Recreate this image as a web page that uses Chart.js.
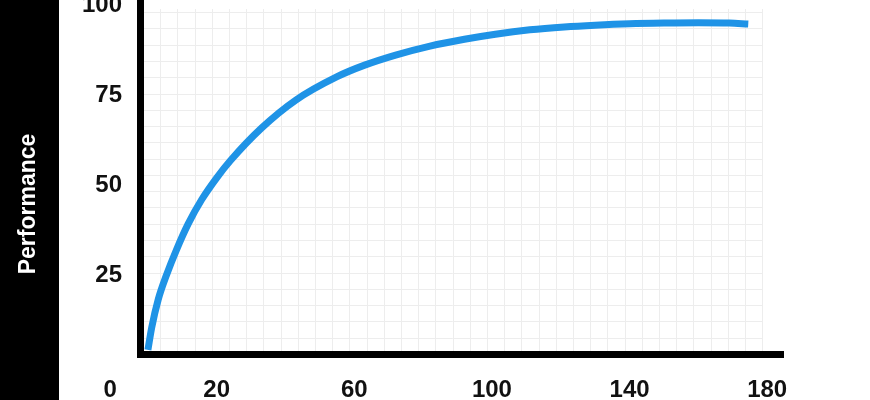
<!DOCTYPE html>
<html>
<head>
<meta charset="utf-8">
<script src="https://cdn.jsdelivr.net/npm/chart.js@4.4.1/dist/chart.umd.min.js"></script>
<style>
  html, body { margin: 0; padding: 0; background: #fff; }
  #wrap { width: 870px; height: 400px; }
</style>
</head>
<body>
<div id="wrap"><canvas id="perfChart" width="870" height="400"></canvas></div>
<script>
// values
const days = [0, 1.1, 3, 5.4, 8.3, 11.7, 15.6, 20, 24, 33, 43, 55, 63, 72, 82, 92, 101, 111, 121, 130, 140, 150, 160, 169, 174.5];
const performance = [4.2, 10.4, 18.2, 25.0, 32.0, 39.2, 45.9, 52.0, 56.8, 65.8, 73.6, 80.1, 83.3, 86.1, 88.6, 90.5, 91.9, 93.1, 93.9, 94.4, 94.8, 95.0, 95.1, 95.0, 94.7];
const xTicks = [0, 20, 60, 100, 140, 180];
const xTickLabels = ["0", "20", "60", "100", "140", "180"];
const yTicks = [25, 50, 75, 100];
const yTitle = "Performance";

const lineColor = "#1f93e6";
const tickFont = { family: "'Liberation Sans', Arial, sans-serif", size: 24, weight: "bold" };

// the "0" label sits left of the axis corner in the original
const originLabelShift = 11;

// black side band, faint paper grid and the rotated axis title
const paperPlugin = {
  id: "paper",
  beforeDraw(chart) {
    const { ctx, chartArea } = chart;
    ctx.save();
    ctx.fillStyle = "#fff";
    ctx.fillRect(0, 0, chart.width, chart.height);
    ctx.fillStyle = "#000";
    ctx.fillRect(0, 0, 59, chart.height);

    const cellW = 17.2, cellH = 16.28;
    const gx0 = chartArea.left + 3;
    const gRight = gx0 + 36 * cellW;
    const gTop = 9;
    ctx.strokeStyle = "#ededed";
    ctx.lineWidth = 1;
    ctx.beginPath();
    for (let k = 1; k <= 36; k++) {
      const x = Math.round(gx0 + k * cellW) + 0.5;
      ctx.moveTo(x, gTop);
      ctx.lineTo(x, chartArea.bottom);
    }
    for (let k = 1; k <= 21; k++) {
      const y = Math.round(chartArea.bottom - k * cellH) + 0.5;
      ctx.moveTo(gx0, y);
      ctx.lineTo(gRight, y);
    }
    ctx.stroke();

    ctx.translate(35, 204);
    ctx.rotate(-Math.PI / 2);
    ctx.fillStyle = "#fff";
    ctx.font = "bold 23px 'Liberation Sans', Arial, sans-serif";
    ctx.textAlign = "center";
    ctx.textBaseline = "alphabetic";
    ctx.fillText(yTitle, 0, 0);
    ctx.restore();
  },
};

const ctx = document.getElementById("perfChart").getContext("2d");

new Chart(ctx, {
  type: "line",
  data: {
    datasets: [
      {
        data: days.map((d, i) => ({ x: d, y: performance[i] })),
        borderColor: lineColor,
        borderWidth: 7,
        borderCapStyle: "butt",
        borderJoinStyle: "round",
        pointRadius: 0,
        fill: false,
        cubicInterpolationMode: "monotone",
        clip: false,
      },
    ],
  },
  options: {
    responsive: false,
    animation: false,
    layout: { padding: { left: 0, top: 0, right: 87, bottom: 0 } },
    plugins: {
      legend: { display: false },
      tooltip: { enabled: false },
    },
    scales: {
      x: {
        type: "linear",
        min: -2.3,
        max: 184.6,
        grid: { display: false, drawTicks: false },
        border: { display: true, color: "#000", width: 7 },
        afterBuildTicks(scale) {
          scale.ticks = xTicks.map((v) => ({ value: v === 0 ? v - originLabelShift : v }));
        },
        afterFit(scale) {
          scale.height = 46;
          scale.paddingLeft = 0;
          scale.paddingRight = 0;
        },
        ticks: {
          autoSkip: false,
          maxRotation: 0,
          padding: 22,
          color: "#111",
          font: tickFont,
          callback: function (value, index) {
            return xTickLabels[index];
          },
        },
      },
      y: {
        min: 3.06,
        max: 101.39,
        grid: { display: false, drawTicks: false },
        border: { display: true, color: "#000", width: 7 },
        afterBuildTicks(scale) {
          scale.ticks = yTicks.map((v) => ({ value: v }));
        },
        afterFit(scale) {
          scale.width = 140;
          scale.paddingTop = 0;
          scale.paddingBottom = 0;
        },
        ticks: {
          padding: 18,
          color: "#111",
          font: tickFont,
        },
      },
    },
  },
  plugins: [paperPlugin],
});
</script>
</body>
</html>
